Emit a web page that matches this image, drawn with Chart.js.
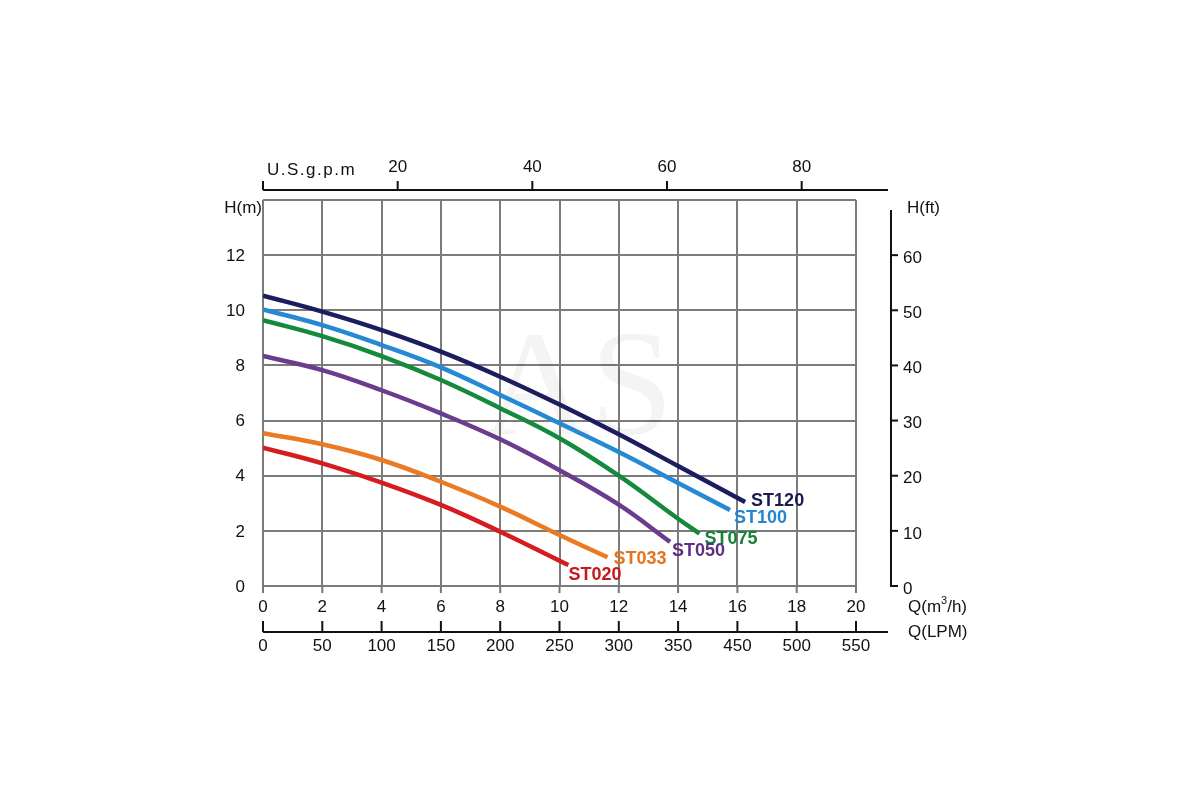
<!DOCTYPE html>
<html>
<head>
<meta charset="utf-8">
<title>Pump curves</title>
<script src="https://cdn.jsdelivr.net/npm/chart.js@4.4.1/dist/chart.umd.min.js"></script>
<style>
  html, body { margin: 0; padding: 0; background: #fff; }
  #wrap { width: 1200px; height: 800px; }
</style>
</head>
<body>
<div id="wrap"><canvas id="myChart" width="1200" height="800"></canvas></div>
<script>
// series names and colours
const seriesNames = ["ST120", "ST100", "ST075", "ST050", "ST033", "ST020"];
const lineColors = ["#1c1d5e", "#2589d3", "#168a3c", "#6b3b8e", "#ea7a23", "#d61c20"];
const labelColors = ["#1a1a55", "#1f86cf", "#158236", "#5e2f84", "#e4731e", "#c8171b"];

// flow Q (m3/h) and head H (m)
const st120Q = [0, 2, 4, 6, 8, 10, 12, 14, 16.26];
const st120H = [10.53, 9.95, 9.28, 8.5, 7.59, 6.58, 5.5, 4.35, 3.05];
const st100Q = [0, 2, 4, 6, 8, 10, 12, 14, 15.75];
const st100H = [10.03, 9.46, 8.74, 7.93, 6.93, 5.9, 4.86, 3.74, 2.76];
const st075Q = [0, 2, 4, 6, 8, 10, 12, 14, 14.72];
const st075H = [9.64, 9.06, 8.34, 7.47, 6.45, 5.36, 4.0, 2.44, 1.9];
const st050Q = [0, 2, 4, 6, 8, 10, 12, 13.73];
const st050H = [8.34, 7.83, 7.1, 6.26, 5.32, 4.2, 2.95, 1.6];
const st033Q = [0, 2, 4, 6, 8, 10, 11.62];
const st033H = [5.54, 5.14, 4.57, 3.78, 2.88, 1.85, 1.04];
const st020Q = [0, 2, 4, 6, 8, 10.3];
const st020H = [5.02, 4.45, 3.75, 2.94, 1.97, 0.76];

// axis ticks
const qTicks = [0, 2, 4, 6, 8, 10, 12, 14, 16, 18, 20];
const hTicks = [0, 2, 4, 6, 8, 10, 12];
const lpmLabels = ["0", "50", "100", "150", "200", "250", "300", "350", "450", "500", "550"];
const gpmTicks = [0, 20, 40, 60, 80];
const ftLabels = ["0", "10", "20", "30", "40", "50", "60"];
const GPM_TO_M3H = 0.2271;

const allQ = [st120Q, st100Q, st075Q, st050Q, st033Q, st020Q];
const allH = [st120H, st100H, st075H, st050H, st033H, st020H];

// where each name sits relative to the curve end (px)
const labelOffsets = [[6, -1], [4, 8], [5, 5], [2, 9], [6, 2], [0, 10]];

function toPoints(qs, hs) {
    return qs.map((q, i) => ({ x: q, y: hs[i] }));
}

let datasets = seriesNames.map((name, i) => ({
    label: name,
    data: toPoints(allQ[i], allH[i]),
    borderColor: lineColors[i],
    borderWidth: 4.5,
    pointRadius: 0,
    fill: false,
    tension: 0.4,
    borderCapStyle: "butt",
    borderJoinStyle: "round"
}));

const FONT = "'Liberation Sans', Arial, sans-serif";

const extraAxes = {
    id: "extraAxes",
    beforeDatasetsDraw(chart) {
        const ctx = chart.ctx;
        const a = chart.chartArea;
        // faint watermark
        ctx.save();
        ctx.fillStyle = "rgba(0,0,0,0.045)";
        ctx.font = "150px 'Liberation Serif', serif";
        ctx.textAlign = "center";
        ctx.textBaseline = "middle";
        ctx.fillText("AS", (a.left + a.right) / 2 + 18, (a.top + a.bottom) / 2 + 2);
        ctx.restore();
    },
    afterDraw(chart) {
        const ctx = chart.ctx;
        const xs = chart.scales.x;
        const ys = chart.scales.y;
        const a = chart.chartArea;
        const axisEnd = xs.getPixelForValue(21.08);
        ctx.save();
        ctx.strokeStyle = "#111";
        ctx.fillStyle = "#111";
        ctx.lineWidth = 2;
        ctx.font = "17px " + FONT;

        // left H(m) labels
        ctx.textAlign = "right";
        ctx.textBaseline = "middle";
        hTicks.forEach(v => ctx.fillText(String(v), a.left - 18, ys.getPixelForValue(v) + 1));
        ctx.fillText("H(m)", a.left - 1, a.top + 8);

        // bottom Q(m3/h) ticks and labels
        ctx.textAlign = "center";
        ctx.strokeStyle = "#777";
        qTicks.forEach(v => {
            const px = xs.getPixelForValue(v);
            ctx.beginPath();
            ctx.moveTo(px, a.bottom);
            ctx.lineTo(px, a.bottom + 7);
            ctx.stroke();
            ctx.fillText(String(v), px, a.bottom + 21);
        });
        ctx.textAlign = "left";
        ctx.fillText("Q(m", 908, a.bottom + 21);
        let w = ctx.measureText("Q(m").width;
        ctx.font = "11px " + FONT;
        ctx.fillText("3", 908 + w, a.bottom + 15);
        let w2 = ctx.measureText("3").width;
        ctx.font = "17px " + FONT;
        ctx.fillText("/h)", 908 + w + w2, a.bottom + 21);

        // LPM axis
        const lpmY = a.bottom + 46;
        ctx.strokeStyle = "#111";
        ctx.beginPath();
        ctx.moveTo(a.left, lpmY);
        ctx.lineTo(axisEnd, lpmY);
        ctx.stroke();
        ctx.textAlign = "center";
        qTicks.forEach((v, i) => {
            const px = xs.getPixelForValue(v);
            ctx.beginPath();
            ctx.moveTo(px, lpmY);
            ctx.lineTo(px, lpmY - 11);
            ctx.stroke();
            ctx.fillText(lpmLabels[i], px, lpmY + 14);
        });
        ctx.textAlign = "left";
        ctx.fillText("Q(LPM)", 908, lpmY);

        // top U.S.g.p.m axis
        const topY = a.top - 10;
        ctx.beginPath();
        ctx.moveTo(a.left, topY);
        ctx.lineTo(axisEnd, topY);
        ctx.stroke();
        ctx.textAlign = "center";
        gpmTicks.forEach(g => {
            const px = xs.getPixelForValue(g * GPM_TO_M3H);
            ctx.beginPath();
            ctx.moveTo(px, topY);
            ctx.lineTo(px, topY - 9);
            ctx.stroke();
            if (g > 0) ctx.fillText(String(g), px, topY - 23);
        });
        ctx.textAlign = "left";
        ctx.letterSpacing = "1.5px";
        ctx.fillText("U.S.g.p.m", a.left + 4, topY - 20);
        ctx.letterSpacing = "0px";

        // right H(ft) axis
        const rx = xs.getPixelForValue(21.18);
        ctx.beginPath();
        ctx.moveTo(rx, a.top + 10);
        ctx.lineTo(rx, a.bottom);
        ctx.stroke();
        hTicks.forEach((v, i) => {
            const py = ys.getPixelForValue(v);
            ctx.beginPath();
            ctx.moveTo(rx - 1, py);
            ctx.lineTo(rx + 7, py);
            ctx.stroke();
            ctx.fillText(ftLabels[i], rx + 12, py + 3);
        });
        ctx.fillText("H(ft)", rx + 16, a.top + 8);

        // curve names
        ctx.font = "bold 18px " + FONT;
        ctx.textBaseline = "middle";
        seriesNames.forEach((name, i) => {
            const qs = allQ[i], hs = allH[i];
            const ex = xs.getPixelForValue(qs[qs.length - 1]);
            const ey = ys.getPixelForValue(hs[hs.length - 1]);
            ctx.fillStyle = labelColors[i];
            ctx.fillText(name, ex + labelOffsets[i][0], ey + labelOffsets[i][1]);
        });
        ctx.restore();
    }
};

new Chart("myChart", {
    type: "line",
    data: { datasets: datasets },
    options: {
        responsive: false,
        animation: false,
        devicePixelRatio: 1,
        layout: { padding: { left: 263, right: 344, top: 200, bottom: 214 } },
        plugins: {
            legend: { display: false },
            tooltip: { enabled: false }
        },
        scales: {
            x: {
                type: "linear",
                min: 0,
                max: 20,
                ticks: { display: false, stepSize: 2 },
                grid: { color: "#7b7b7b", lineWidth: 2, drawTicks: false },
                border: { display: false }
            },
            y: {
                type: "linear",
                min: 0,
                max: 14,
                ticks: { display: false, stepSize: 2 },
                grid: { color: "#7b7b7b", lineWidth: 2, drawTicks: false },
                border: { display: false }
            }
        }
    },
    plugins: [extraAxes]
});
</script>
</body>
</html>
